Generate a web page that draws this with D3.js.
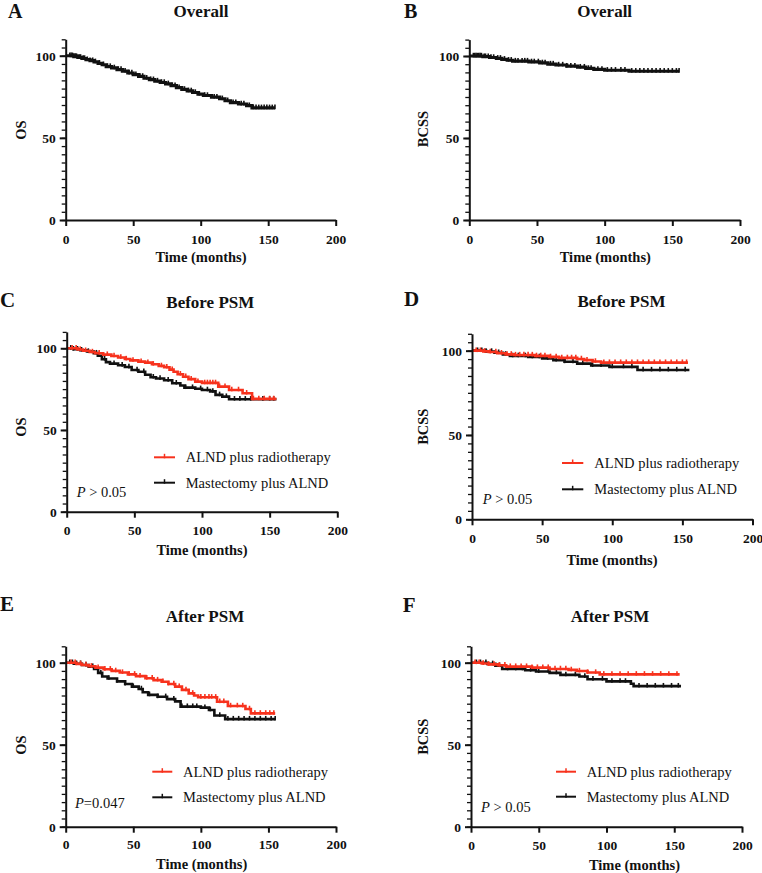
<!DOCTYPE html>
<html>
<head>
<meta charset="utf-8">
<script src="https://cdn.jsdelivr.net/npm/d3@7"></script>
<style>
  html, body { margin: 0; padding: 0; background: #fff; }
  svg { display: block; }
  text { font-family: "Liberation Serif", "Times New Roman", serif; fill: #111; }
</style>
</head>
<body>
<svg id="chart" width="762" height="873"></svg>
<script>
// ---------------- DATA ----------------
const xTicks = [0, 50, 100, 150, 200];
const yTicks = [0, 50, 100];
const legendLabels = ["ALND plus radiotherapy", "Mastectomy plus ALND"];
const panelLetters = ["A", "B", "C", "D", "E", "F"];
const panelTitles = ["Overall", "Overall", "Before PSM", "Before PSM", "After PSM", "After PSM"];
const yLabels = ["OS", "BCSS", "OS", "BCSS", "OS", "BCSS"];
const pTexts = [null, null, ["P", " > 0.05"], ["P", " > 0.05"], ["P", "=0.047"], ["P", " > 0.05"]];

// Kaplan-Meier steps: [time (months), survival (%)]
const osOverall = [[0,100],[6,99.5],[9,99],[12,98.3],[15,97.6],[18,97],[21,96.3],[24,95.4],[27,94.5],[30,93.4],[34,92.6],[38,91.6],[42,90.6],[46,89.5],[50,88.5],[54,87.4],[58,86.3],[62,85.4],[66,84.6],[70,83.7],[74,82.9],[78,81.8],[82,80.6],[86,79.5],[90,78.6],[94,77.6],[98,76.6],[102,75.8],[108,74.8],[114,73.8],[118,72.6],[122,71.4],[128,70.6],[134,69.6],[138,68.3],[155,68.3]];
const bcssOverall = [[0,100],[10,99.6],[15,99.1],[20,98.6],[24,98],[28,97.4],[32,96.9],[44,96.4],[52,95.8],[58,95.1],[64,94.5],[72,93.8],[80,93.2],[86,92.4],[92,91.8],[100,91.3],[118,90.7],[155,90.7]];

const osBeforeRT = [[0,100],[8,99.2],[12,98.5],[17,97.7],[21,96.9],[27,96.1],[33,95.3],[38,94.3],[43,93.4],[47,92.6],[53,91.8],[58,91.2],[63,90.2],[68,89.2],[72,88.4],[76,86.9],[79,85.6],[82,84.1],[86,82.6],[90,81.1],[95,79.6],[100,78.8],[112,76.5],[120,74.5],[130,72.5],[137,69],[155,69]];
const osBeforeMast = [[0,100],[5,99.4],[10,98.8],[15,98],[20,97],[23,95.4],[26,93.3],[29,91.5],[32,90.6],[38,89.6],[43,88.5],[48,86.7],[53,85.6],[58,83.8],[62,82.3],[66,81.5],[72,80.4],[78,78.6],[84,77.2],[87,75.9],[95,75.2],[100,74.5],[106,73.6],[110,71.5],[115,70.4],[120,68.8],[155,68.8]];
const bcssBeforeRT = [[0,100],[8,99.6],[12,99.2],[18,98.5],[24,97.8],[30,97.4],[45,96.9],[55,96.3],[62,95.7],[75,95.1],[80,94.4],[86,93.6],[92,92.9],[154,92.9]];
const bcssBeforeMast = [[0,100],[10,99.5],[16,98.8],[22,97.8],[27,96.9],[40,96.3],[50,95.4],[58,94.4],[66,93.4],[75,92.3],[85,91.2],[98,90.4],[118,88.5],[155,88.5]];

const osAfterRT = [[0,100],[8,99.3],[12,98.6],[17,97.8],[22,97],[28,96],[34,95],[40,94],[46,92.9],[52,91.8],[59,90.5],[65,89.4],[71,88.4],[76,87],[81,85.4],[86,83.4],[91,81.3],[95,80],[98,78.9],[112,76.2],[120,73.6],[133,71.8],[137,69.1],[155,69.1]];
const osAfterMast = [[0,100],[6,99.4],[12,98.6],[17,97.6],[21,96.2],[24,93.8],[27,91.6],[31,90.4],[38,88.6],[44,87],[49,85.4],[54,84],[57,82],[61,80.4],[68,79.2],[75,77.8],[81,76.4],[85,73.2],[100,72.6],[106,71.2],[110,67.8],[118,65.6],[155,65.6]];
const bcssAfterRT = [[0,100],[8,99.5],[13,99],[20,98.4],[26,97.6],[45,97],[58,96.2],[72,95.6],[78,94.9],[86,94],[95,92.9],[154,92.9]];
const bcssAfterMast = [[0,100],[12,99.3],[18,98.2],[23,96.2],[40,95.4],[48,94.6],[58,93.8],[66,92.6],[80,91.6],[86,89.9],[100,88.6],[118,87.2],[120,85.7],[155,85.7]];

// Censoring times (months)
const osOverallCens = [3,4,5,6,7,8,9,10,11,13,14,16,18,20,22,25,28,31,33,36,39,41,44,47,49,52,55,57,60,63,65,68,71,73,76,79,81,84,88,91,93,96,99,103,105,110,112,116,120,124,126,130,132,136,139,141,143,145,147,149,151,153,155];
const bcssOverallCens = [3,4,5,6,7,8,9,11,12,14,16,18,21,23,26,29,31,34,36,39,41,43,46,48,51,54,56,60,62,66,69,72,75,78,82,85,88,90,95,98,102,105,108,112,115,120,123,126,129,132,135,138,141,144,147,150,153,155];
const osBeforeRTCens = [4,7,10,14,19,24,30,35,40,44,49,55,60,64,70,74,78,84,88,92,97,102,104,106,108,110,113,117,122,127,133,138,142,146,150,153];
const osBeforeMastCens = [3,5,8,11,16,22,28,35,41,46,52,57,64,69,75,81,88,93,99,104,108,113,118,124,128,132,136,145,150,153];
const bcssBeforeRTCens = [3,6,9,13,17,21,25,28,31,34,37,40,43,46,49,52,56,60,64,68,71,74,78,82,88,94,98,102,106,110,114,118,122,126,130,134,138,142,146,150,153];
const bcssBeforeMastCens = [4,7,10,14,19,24,29,33,38,43,48,54,60,66,72,79,86,92,100,108,114,122,128,134,140,146,152];
const osAfterRTCens = [4,7,11,15,19,24,29,33,37,42,47,51,55,60,64,68,72,76,80,84,89,94,100,103,106,108,111,114,117,122,127,131,136,140,144,148,151,154];
const osAfterMastCens = [3,5,8,11,15,20,26,32,38,44,50,56,62,68,74,80,86,90,94,97,103,107,114,120,124,128,132,136,140,144,148,152,155];
const bcssAfterRTCens = [3,6,9,13,17,21,25,29,33,37,41,45,49,53,57,62,66,70,74,80,86,92,98,104,110,116,122,128,134,140,146,152];
const bcssAfterMastCens = [4,7,11,16,21,27,33,38,44,50,57,63,70,77,84,90,97,104,110,114,124,130,136,142,148,153];

const RED = "#f7321d", BLACK = "#111";

// ---------------- LAYOUT ----------------
const layout = [
  { left: 65.7, right: 335.7, bottom: 220, top: 39.3, lw: 3.2,
    letter: [8, 18.2, 20], title: [201, 16.5], ylab: [21, 130], xlab: [201, 262], tickOff: 23.5 },
  { left: 469.3, right: 740, bottom: 220, top: 39.6, lw: 3.2,
    letter: [404, 18, 20], title: [604.7, 16.5], ylab: [422.7, 129], xlab: [605.3, 261.7], tickOff: 23.5 },
  { left: 66.7, right: 337.3, bottom: 511.7, top: 331.9, lw: 2.6,
    letter: [0, 307, 21], title: [210.3, 308], ylab: [21, 427], xlab: [202, 555], tickOff: 23.3,
    legend: { x1: 154, x2: 175, tx: 185.7, y: [457.3, 482.7] }, p: [76.7, 496.5] },
  { left: 472, right: 752.5, bottom: 519.3, top: 333.8, lw: 2.6,
    letter: [404, 306, 21], title: [621.5, 307.3], ylab: [422.7, 426.7], xlab: [612, 565], tickOff: 24,
    legend: { x1: 562, x2: 583.3, tx: 594.3, y: [463, 489.3] }, p: [482.7, 504] },
  { left: 65.7, right: 336, bottom: 826.7, top: 646.3, lw: 2.6,
    letter: [0, 611, 21], title: [205, 621.7], ylab: [21, 745], xlab: [201.7, 869.3], tickOff: 22.7,
    legend: { x1: 152.3, x2: 172.3, tx: 183, y: [771.7, 797.3] }, p: [75, 808] },
  { left: 471, right: 742, bottom: 826.7, top: 646.3, lw: 2.6,
    letter: [402.7, 612, 21], title: [610, 621.7], ylab: [422.7, 736.7], xlab: [634.5, 870], tickOff: 23.3,
    legend: { x1: 556, x2: 576, tx: 586.7, y: [771.7, 796.7] }, p: [481, 811.5] }
];

const panelSeries = [
  [{ d: osOverall, c: osOverallCens, col: BLACK }],
  [{ d: bcssOverall, c: bcssOverallCens, col: BLACK }],
  [{ d: osBeforeMast, c: osBeforeMastCens, col: BLACK }, { d: osBeforeRT, c: osBeforeRTCens, col: RED }],
  [{ d: bcssBeforeMast, c: bcssBeforeMastCens, col: BLACK }, { d: bcssBeforeRT, c: bcssBeforeRTCens, col: RED }],
  [{ d: osAfterMast, c: osAfterMastCens, col: BLACK }, { d: osAfterRT, c: osAfterRTCens, col: RED }],
  [{ d: bcssAfterMast, c: bcssAfterMastCens, col: BLACK }, { d: bcssAfterRT, c: bcssAfterRTCens, col: RED }]
];

// ---------------- DRAW ----------------
const svg = d3.select("#chart");

function survAt(steps, t) {
  let s = steps[0][1];
  for (const [ti, si] of steps) { if (ti <= t) s = si; else break; }
  return s;
}

layout.forEach((L, i) => {
  const g = svg.append("g");
  const x = d3.scaleLinear().domain([0, 200]).range([L.left, L.right]);
  const y = d3.scaleLinear().domain([0, 110]).range([L.bottom, L.top]);

  // curves
  const line = d3.line().x(d => x(d[0])).y(d => y(d[1])).curve(d3.curveStepAfter);
  panelSeries[i].forEach(s => {
    g.append("path").datum(s.d).attr("d", line)
      .attr("fill", "none").attr("stroke", s.col).attr("stroke-width", L.lw);
    g.append("g").selectAll("line").data(s.c).join("line")
      .attr("x1", t => x(t)).attr("x2", t => x(t))
      .attr("y1", t => y(survAt(s.d, t)) - 3.2)
      .attr("y2", t => y(survAt(s.d, t)) + 1.4)
      .attr("stroke", s.col).attr("stroke-width", 1.6);
  });

  // y axis: minor ticks
  const yMinor = d3.axisLeft(y).tickValues(d3.range(0, 111, 5)).tickSize(4).tickSizeOuter(0).tickFormat("");
  const gm = g.append("g").attr("transform", `translate(${L.left},0)`).call(yMinor);
  gm.selectAll("line").attr("stroke", "#111").attr("stroke-width", 1.3);
  gm.select(".domain").remove();

  // y axis major
  const yAxis = d3.axisLeft(y).tickValues(yTicks).tickSize(6).tickSizeOuter(0).tickPadding(4);
  const gy = g.append("g").attr("transform", `translate(${L.left},0)`).call(yAxis);
  gy.select(".domain").attr("stroke", "#111").attr("stroke-width", 2);
  gy.selectAll("line").attr("stroke", "#111").attr("stroke-width", 2);
  gy.selectAll("text").attr("font-size", 13.5).attr("font-weight", "bold")
    .attr("font-family", "Liberation Serif, Times New Roman, serif").attr("fill", "#111")
    .attr("dy", null).attr("dominant-baseline", "central");

  // x axis
  const xAxis = d3.axisBottom(x).tickValues(xTicks).tickSize(6).tickSizeOuter(0).tickPadding(8);
  const gx = g.append("g").attr("transform", `translate(0,${L.bottom})`).call(xAxis);
  gx.select(".domain").attr("stroke", "#111").attr("stroke-width", 2);
  gx.selectAll("line").attr("stroke", "#111").attr("stroke-width", 2);
  gx.selectAll("text").attr("font-size", 13.5).attr("font-weight", "bold")
    .attr("font-family", "Liberation Serif, Times New Roman, serif").attr("fill", "#111")
    .attr("dy", null).attr("y", L.tickOff);

  // panel letter
  g.append("text").attr("x", L.letter[0]).attr("y", L.letter[1])
    .attr("font-size", L.letter[2]).attr("font-weight", "bold").text(panelLetters[i]);
  // title
  g.append("text").attr("x", L.title[0]).attr("y", L.title[1]).attr("text-anchor", "middle")
    .attr("font-size", 17).attr("font-weight", "bold").text(panelTitles[i]);
  // x label
  g.append("text").attr("x", L.xlab[0]).attr("y", L.xlab[1]).attr("text-anchor", "middle")
    .attr("font-size", 14.5).attr("font-weight", "bold").text("Time (months)");
  // y label
  g.append("text").attr("transform", `translate(${L.ylab[0] + 4.8},${L.ylab[1]}) rotate(-90)`)
    .attr("text-anchor", "middle").attr("font-size", 14.5).attr("font-weight", "bold").text(yLabels[i]);

  // legend
  if (L.legend) {
    const cols = [RED, BLACK];
    legendLabels.forEach((lab, k) => {
      const ly = L.legend.y[k];
      g.append("line").attr("x1", L.legend.x1).attr("x2", L.legend.x2).attr("y1", ly).attr("y2", ly)
        .attr("stroke", cols[k]).attr("stroke-width", 2);
      const mx = (L.legend.x1 + L.legend.x2) / 2;
      g.append("line").attr("x1", mx).attr("x2", mx).attr("y1", ly - 3.5).attr("y2", ly + 1)
        .attr("stroke", cols[k]).attr("stroke-width", 1.5);
      g.append("text").attr("x", L.legend.tx).attr("y", ly + 5)
        .attr("font-size", 14.5).text(lab);
    });
  }
  if (pTexts[i]) {
    const t = g.append("text").attr("x", L.p[0]).attr("y", L.p[1]).attr("font-size", 14.5);
    t.append("tspan").attr("font-style", "italic").text(pTexts[i][0]);
    t.append("tspan").text(pTexts[i][1]);
  }
});
</script>
</body>
</html>
